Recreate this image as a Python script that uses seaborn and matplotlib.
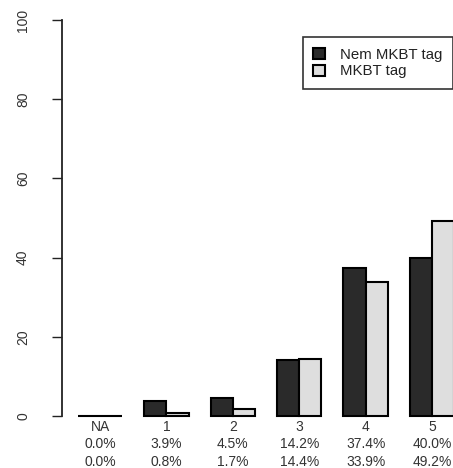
import matplotlib
matplotlib.use("Agg")
import matplotlib.pyplot as plt
import matplotlib.transforms as mtransforms
import seaborn as sns
import pandas as pd

categories = ["NA", "1", "2", "3", "4", "5"]
series_names = ["Nem MKBT tag", "MKBT tag"]
nem_mkbt = [0.0, 3.9, 4.5, 14.2, 37.4, 40.0]
mkbt = [0.0, 0.8, 1.7, 14.4, 33.9, 49.2]
nem_labels = ["0.0%", "3.9%", "4.5%", "14.2%", "37.4%", "40.0%"]
mkbt_labels = ["0.0%", "0.8%", "1.7%", "14.4%", "33.9%", "49.2%"]
y_ticks = [0, 20, 40, 60, 80, 100]

df = pd.DataFrame({
    "cat": categories * 2,
    "group": [series_names[0]] * len(categories) + [series_names[1]] * len(categories),
    "value": nem_mkbt + mkbt,
})

sns.set_style("white")
plt.rcParams["font.family"] = ["Liberation Sans", "DejaVu Sans"]

W, H = 453, 468
fig = plt.figure(figsize=(W / 100, H / 100), dpi=100)
ax = fig.add_axes([62 / W, (H - 416) / H, (W - 62) / W, 396 / H])

sns.barplot(data=df, x="cat", y="value", hue="group", order=categories,
            hue_order=series_names, palette=["#2a2a2a", "#dedede"], width=0.667,
            dodge=True, edgecolor="black", linewidth=1.5, saturation=1, ax=ax, legend=True)

for p in ax.patches:
    p.set_clip_on(False)

ax.set_ylim(0, 100)
ax.set_xlim((62 - 100) / 66.4, (W - 100) / 66.4)
ax.set_yticks(y_ticks)
ax.set_yticklabels([str(v) for v in y_ticks], rotation=90, va="center", color="#333333", fontsize=10)
ax.tick_params(axis="y", length=7, width=1, pad=16, left=True, color="#222222")
ax.set_xticks([])
for s in ["top", "right", "bottom"]:
    ax.spines[s].set_visible(False)
ax.spines["left"].set_linewidth(1.3)
ax.spines["left"].set_color("#222222")
ax.set_xlabel("")
ax.set_ylabel("")

trans = mtransforms.blended_transform_factory(ax.transData, fig.transFigure)
rows = [(categories, 427), (nem_labels, 444.5), (mkbt_labels, 462)]
for labels, ypix in rows:
    for i, lab in enumerate(labels):
        ax.text(i, (H - ypix) / H, lab, transform=trans, ha="center", va="center",
                fontsize=10, color="#333333", clip_on=False)

leg = ax.legend(loc="upper right", bbox_to_anchor=(1.0, (H - 37) / H), bbox_transform=fig.transFigure,
                frameon=True, fancybox=False, fontsize=10.8, handlelength=0.8, handleheight=0.8,
                borderpad=0.7, labelspacing=0.2, handletextpad=1.0, borderaxespad=0)
leg.get_frame().set_edgecolor("black")
leg.get_frame().set_linewidth(1.2)
for t in leg.get_texts():
    t.set_color("#222222")

fig.savefig("out.png", dpi=100)
